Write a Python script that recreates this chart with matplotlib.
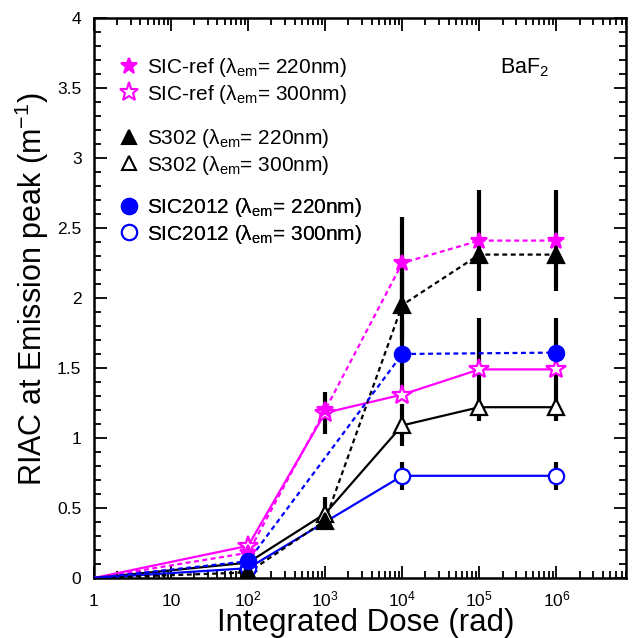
import matplotlib
matplotlib.use("Agg")
import matplotlib.pyplot as plt
from matplotlib.lines import Line2D
from matplotlib.ticker import LogLocator, MultipleLocator, NullFormatter
import numpy as np

plt.rcParams['font.family'] = ['Liberation Sans', 'DejaVu Sans']
plt.rcParams['mathtext.fontset'] = 'custom'
plt.rcParams['mathtext.rm'] = 'Liberation Sans'
plt.rcParams['mathtext.it'] = 'Liberation Sans:italic'

# ---------------- data ----------------
sicref220_dose = [1, 1e2, 1e3, 1e4, 1e5, 1e6]
sicref220_val = [0, 0.18, 1.20, 2.25, 2.41, 2.41]
sicref220_err = [0, 0, 0, 0.33, 0.36, 0.36]

sicref300_dose = [1, 1e2, 1e3, 1e4, 1e5, 1e6]
sicref300_val = [0, 0.23, 1.18, 1.31, 1.49, 1.49]
sicref300_err = [0, 0, 0.15, 0, 0.37, 0.37]

s302_220_dose = [1, 1e2, 1e3, 1e4, 1e5, 1e6]
s302_220_val = [0, 0.04, 0.41, 1.95, 2.31, 2.31]
s302_220_err = [0, 0, 0, 0.25, 0, 0]

s302_300_dose = [1, 1e2, 1e3, 1e4, 1e5, 1e6]
s302_300_val = [0, 0.11, 0.46, 1.09, 1.22, 1.22]
s302_300_err = [0, 0.08, 0.12, 0.15, 0, 0]

sic2012_220_dose = [1, 1e2, 1e4, 1e6]
sic2012_220_val = [0, 0.12, 1.60, 1.61]
sic2012_220_err = [0, 0, 0.24, 0]

sic2012_300_dose = [1, 1e2, 1e3, 1e4, 1e6]
sic2012_300_val = [0, 0.07, 0.40, 0.73, 0.73]
sic2012_300_err = [0, 0, 0, 0.10, 0.10]
sic2012_300_marked = [1e2, 1e4, 1e6]

labels = ["SIC-ref (λ$_{\\rm em}$= 220nm)", "SIC-ref (λ$_{\\rm em}$= 300nm)",
          "S302 (λ$_{\\rm em}$= 220nm)", "S302 (λ$_{\\rm em}$= 300nm)",
          "SIC2012 (λ$_{\\rm em}$= 220nm)", "SIC2012 (λ$_{\\rm em}$= 300nm)"]

xtick_vals = [1, 10, 1e2, 1e3, 1e4, 1e5, 1e6]
xtick_labels = ["1", "10", "10$^2$", "10$^3$", "10$^4$", "10$^5$", "10$^6$"]
ytick_vals = [0, 0.5, 1, 1.5, 2, 2.5, 3, 3.5, 4]
ytick_labels = ["0", "0.5", "1", "1.5", "2", "2.5", "3", "3.5", "4"]

MAG = '#ff00ff'
BLU = '#0000ff'
BLK = '#000000'

fig = plt.figure(figsize=(6.33, 6.38), dpi=100)
ax = fig.add_axes([94/633, 1-578/638, (626-94)/633, (578-18)/638])

dash = (0, (2.2, 1.6))

series = [
    # dose, val, err, color, ls, marker, ms, filled, marked
    (sicref300_dose, sicref300_val, sicref300_err, MAG, '-', '*', 15, False, None),
    (s302_300_dose, s302_300_val, s302_300_err, BLK, '-', '^', 12, False, None),
    (sic2012_300_dose, sic2012_300_val, sic2012_300_err, BLU, '-', 'o', 11, False, sic2012_300_marked),
    (sicref220_dose, sicref220_val, sicref220_err, MAG, dash, '*', 12, True, None),
    (s302_220_dose, s302_220_val, s302_220_err, BLK, dash, '^', 11, True, None),
    (sic2012_220_dose, sic2012_220_val, sic2012_220_err, BLU, dash, 'o', 11, True, None),
]

# error bars (black, thick) drawn first
for d, v, e, c, ls, m, ms, filled, marked in series:
    d = np.array(d); v = np.array(v); e = np.array(e)
    sel = e > 0
    if sel.any():
        ax.errorbar(d[sel], v[sel], yerr=e[sel], fmt='none', ecolor='black',
                    elinewidth=3, capsize=0, zorder=2)

# lines
for d, v, e, c, ls, m, ms, filled, marked in series:
    ax.plot(d, v, color=c, linestyle=ls, linewidth=1.6, zorder=3)

# markers (open first, then filled on top)
for d, v, e, c, ls, m, ms, filled, marked in series:
    d = np.array(d); v = np.array(v)
    if marked is None:
        sel = d > 1
    else:
        sel = np.isin(d, marked)
    ax.plot(d[sel], v[sel], linestyle='none', marker=m, markersize=ms,
            markerfacecolor=c if filled else 'white', markeredgecolor=c,
            markeredgewidth=1.6, zorder=5 if filled else 4)

ax.set_xscale('log')
ax.set_xlim(1, 8e6)
ax.set_ylim(0, 4)
ax.set_xticks(xtick_vals)
ax.set_xticklabels(xtick_labels)
ax.xaxis.set_minor_locator(LogLocator(base=10, subs=np.arange(2, 10), numticks=20))
ax.xaxis.set_minor_formatter(NullFormatter())
ax.set_yticks(ytick_vals)
ax.set_yticklabels(ytick_labels)
ax.yaxis.set_minor_locator(MultipleLocator(0.1))

for s in ax.spines.values():
    s.set_linewidth(1.8)
ax.tick_params(which='both', direction='in', top=True, right=True, width=1.3)
ax.tick_params(which='major', length=9)
ax.tick_params(which='minor', length=5)
ax.tick_params(axis='y', labelsize=12.5, pad=9)
ax.tick_params(axis='x', labelsize=12.5, pad=20.5)
for lab in ax.get_xticklabels():
    lab.set_verticalalignment('baseline')

ax.set_xlabel("Integrated Dose (rad)", fontsize=22.5)
ax.xaxis.label.set_verticalalignment('baseline')
ax.xaxis.set_label_coords(0.51, (578-631)/560)
ax.set_ylabel("RIAC at Emission peak (m$^{-1}$)", fontsize=22)
ax.yaxis.label.set_verticalalignment('baseline')
ax.yaxis.set_label_coords((42-94)/532, 0.515)

ax.text(500/633, 1-73/638, "BaF$_2$", transform=fig.transFigure, fontsize=15.5,
        ha='left', va='baseline')

# legends in three groups
def mk(c, m, ms, filled):
    return Line2D([], [], linestyle='none', marker=m, markersize=ms,
                  markerfacecolor=c if filled else 'white', markeredgecolor=c,
                  markeredgewidth=1.5)

groups = [
    ([mk(MAG, '*', 12, True), mk(MAG, '*', 14, False)], labels[0:2], 81),
    ([mk(BLK, '^', 10, True), mk(BLK, '^', 10, False)], labels[2:4], 152),
    ([mk(BLU, 'o', 11, True), mk(BLU, 'o', 11, False)], labels[4:6], 221),
]
for handles, labs, yc in groups:
    lg = ax.legend(handles, labs, loc='center left',
                   bbox_to_anchor=(120/633, 1-yc/638), bbox_transform=fig.transFigure,
                   frameon=False, fontsize=15, handlelength=0.9, handletextpad=0.4,
                   labelspacing=0.16, borderpad=0, borderaxespad=0)
    ax.add_artist(lg)

fig.savefig("out.png", dpi=100)
